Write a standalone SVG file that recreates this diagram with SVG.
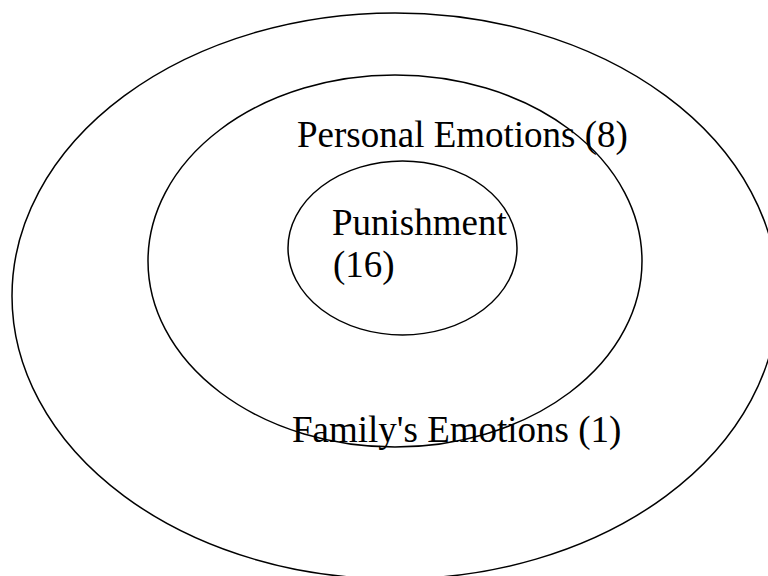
<svg xmlns="http://www.w3.org/2000/svg" width="768" height="576" viewBox="0 0 768 576">
<style>
.ring{fill:none;stroke:#000;stroke-width:1.5}
.lbl{font-family:"Liberation Serif","Times New Roman",serif;font-size:37px;fill:#000}
</style>
<rect width="768" height="576" fill="#fff"/>
<g id="outer">
<ellipse class="ring" cx="395" cy="296" rx="383" ry="283"/>
<text class="lbl" x="292" y="442">Family's Emotions (1)</text>
</g>
<g id="middle">
<ellipse class="ring" cx="395" cy="261" rx="247" ry="186"/>
<text class="lbl" x="297" y="147">Personal Emotions (8)</text>
</g>
<g id="inner">
<ellipse class="ring" cx="402.5" cy="248" rx="114.5" ry="87"/>
<text class="lbl" x="332" y="235">Punishment</text>
<text class="lbl" x="333" y="277">(16)</text>
</g>
<g id="connectors"/>
</svg>
